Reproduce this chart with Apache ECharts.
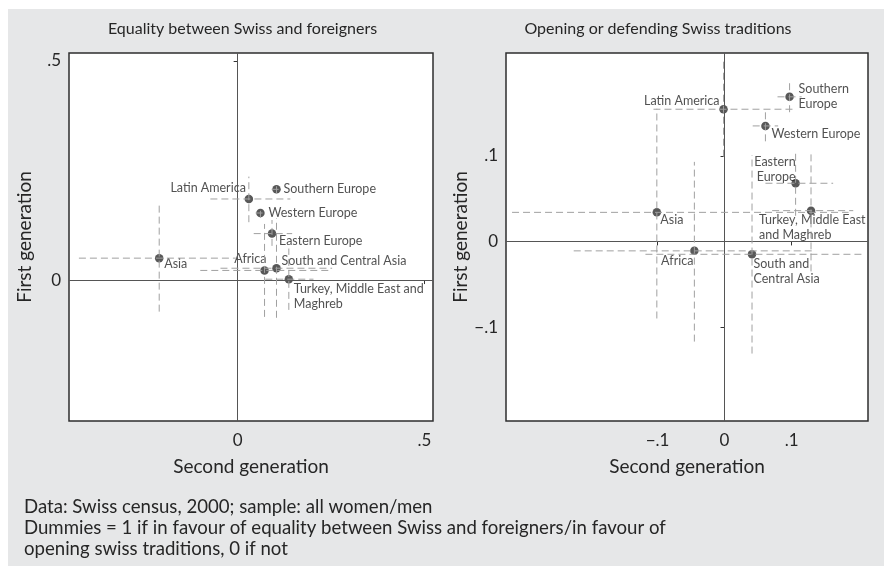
<!DOCTYPE html>
<html>
<head>
<meta charset="utf-8">
<script src="https://cdn.jsdelivr.net/npm/echarts@6/dist/echarts.min.js"></script>
<style>
  html, body { margin: 0; padding: 0; background: #fff; }
  #wrap { position: relative; width: 884px; height: 566px; overflow: hidden; }
  #panel { position: absolute; left: 8px; top: 9px; right: 0; bottom: 0; background: #e6e7e8; }
  #chart { position: absolute; left: 0; top: 0; width: 884px; height: 566px; }
</style>
</head>
<body>
<div id="wrap"><div id="panel"></div><div id="chart"></div></div>
<script>
// Region groups (same order in both panels)
const regions = ['Latin America', 'Southern Europe', 'Western Europe', 'Eastern Europe',
  'Asia', 'Africa', 'South and Central Asia', 'Turkey, Middle East and Maghreb'];

// Panel 1: equality between Swiss and foreigners
const eqSecond   = [0.030, 0.104, 0.061, 0.092, -0.210, 0.072, 0.104, 0.137];
const eqFirst    = [0.185, 0.207, 0.153, 0.106, 0.050, 0.022, 0.027, 0.002];
const eqSecondLo = [-0.073, 0.091, 0.048, 0.043, -0.425, -0.100, -0.046, 0.074];
const eqSecondHi = [0.141, 0.117, 0.074, 0.146, -0.005, 0.243, 0.253, 0.203];
const eqFirstLo  = [0.132, 0.198, 0.142, 0.078, -0.072, -0.084, -0.086, -0.068];
const eqFirstHi  = [0.236, 0.216, 0.164, 0.137, 0.171, 0.128, 0.141, 0.072];
const eqLabels = ['Latin America', 'Southern Europe', 'Western Europe', 'Eastern Europe',
  'Asia', 'Africa', 'South and Central Asia', 'Turkey, Middle East and\nMaghreb'];

// Panel 2: opening or defending Swiss traditions
const trSecond   = [-0.0015, 0.097, 0.061, 0.106, -0.101, -0.045, 0.041, 0.129];
const trFirst    = [0.1545, 0.169, 0.135, 0.068, 0.034, -0.011, -0.015, 0.036];
const trSecondLo = [-0.106, 0.079, 0.042, 0.061, -0.317, -0.225, -0.118, 0.071];
const trSecondHi = [0.104, 0.115, 0.080, 0.162, 0.185, 0.135, 0.205, 0.192];
const trFirstLo  = [0.099, 0.151, 0.117, 0.030, -0.090, -0.117, -0.131, -0.035];
const trFirstHi  = [0.210, 0.186, 0.152, 0.106, 0.155, 0.093, 0.101, 0.106];
const trLabels = ['Latin America', 'Southern\nEurope', 'Western Europe', 'Eastern\nEurope',
  'Asia', 'Africa', 'South and\nCentral Asia', 'Turkey, Middle East\nand Maghreb'];

// Axis extents and tick values
const eqXRange = [-0.4515, 0.523], eqYRange = [-0.3215, 0.518];
const trXRange = [-0.326, 0.214],  trYRange = [-0.2098, 0.2202];
const eqXTicks = [0, 0.5], eqYTicks = [0, 0.5];
const trXTicks = [-0.1, 0, 0.1], trYTicks = [-0.1, 0, 0.1];

const titles = ['Equality between Swiss and foreigners', 'Opening or defending Swiss traditions'];
const notes = [
  'Data: Swiss census, 2000; sample: all women/men',
  'Dummies = 1 if in favour of equality between Swiss and foreigners/in favour of',
  'opening swiss traditions, 0 if not'
];

// Label placement for each marker, relative to the point
const eqPlace = [
  { align: 'right', verticalAlign: 'middle', offset: [-3, -11] },
  { align: 'left',  verticalAlign: 'middle', offset: [7, 0] },
  { align: 'left',  verticalAlign: 'middle', offset: [8, 0] },
  { align: 'left',  verticalAlign: 'middle', offset: [7, 7] },
  { align: 'left',  verticalAlign: 'middle', offset: [5, 6] },
  { align: 'right', verticalAlign: 'middle', offset: [2, -11] },
  { align: 'left',  verticalAlign: 'middle', offset: [5, -7.5] },
  { align: 'left',  verticalAlign: 'top',    offset: [5, 2] }
];
const trPlace = [
  { align: 'right', verticalAlign: 'middle', offset: [-4, -8] },
  { align: 'left',  verticalAlign: 'middle', offset: [9, 0] },
  { align: 'left',  verticalAlign: 'middle', offset: [6, 8] },
  { align: 'right', verticalAlign: 'bottom', offset: [0, 1] },
  { align: 'left',  verticalAlign: 'middle', offset: [3.5, 8] },
  { align: 'right', verticalAlign: 'middle', offset: [-1, 10.5] },
  { align: 'left',  verticalAlign: 'top',    offset: [1.5, 2.5] },
  { align: 'left',  verticalAlign: 'top',    offset: [-52, 2] }
];

const FONT = 'Lato, "Open Sans", sans-serif';
const TXT = '#262626';

function fmtTick(v) {
  if (Math.abs(v) < 1e-9) return '0';
  const s = String(Math.round(Math.abs(v) * 1000) / 1000).replace(/^0/, '');
  return (v < 0 ? '\u2212' : '') + s;
}

function xAxisFor(idx, range, ticks) {
  return {
    type: 'value', gridIndex: idx, min: range[0], max: range[1],
    name: 'Second generation', nameLocation: 'middle', nameGap: 36,
    nameTextStyle: { fontSize: 19, fontFamily: FONT, color: TXT },
    axisLine: { show: false },
    axisTick: { show: true, length: 4, customValues: ticks, lineStyle: { color: '#333' } },
    axisLabel: { customValues: ticks, formatter: fmtTick, margin: 11, fontSize: 17, fontFamily: FONT, color: TXT },
    splitLine: { show: false }
  };
}
function yAxisFor(idx, range, ticks) {
  return {
    type: 'value', gridIndex: idx, min: range[0], max: range[1],
    name: 'First generation', nameLocation: 'middle', nameGap: 35,
    nameTextStyle: { fontSize: 19, fontFamily: FONT, color: TXT },
    axisLine: { show: false },
    axisTick: { show: true, length: 4, customValues: ticks, lineStyle: { color: '#333' } },
    axisLabel: { customValues: ticks, formatter: fmtTick, margin: 8, fontSize: 17, fontFamily: FONT, color: TXT },
    splitLine: { show: false }
  };
}

// Zero reference lines spanning the plot box
function zeroLines(idx) {
  return {
    type: 'scatter', xAxisIndex: idx, yAxisIndex: idx, data: [], silent: true,
    markLine: {
      silent: true, symbol: 'none', animation: false,
      label: { show: false },
      lineStyle: { color: '#555', width: 1, type: 'solid' },
      data: [{ xAxis: 0 }, { yAxis: 0 }]
    }
  };
}

// Dashed confidence bars in both directions
function ciSeries(idx, xs, ys, xlo, xhi, ylo, yhi) {
  return {
    type: 'custom', xAxisIndex: idx, yAxisIndex: idx, z: 5, silent: true,
    data: xs.map((x, i) => [x, ys[i], xlo[i], xhi[i], ylo[i], yhi[i]]),
    encode: { x: 0, y: 1 },
    renderItem(params, api) {
      const a = api.coord([api.value(2), api.value(1)]);
      const b = api.coord([api.value(3), api.value(1)]);
      const c = api.coord([api.value(0), api.value(4)]);
      const d = api.coord([api.value(0), api.value(5)]);
      const style = { stroke: '#a0a0a0', lineWidth: 1, lineDash: [7, 4], fill: null };
      return {
        type: 'group',
        children: [
          { type: 'line', shape: { x1: a[0], y1: a[1], x2: b[0], y2: b[1] }, style },
          { type: 'line', shape: { x1: c[0], y1: c[1], x2: d[0], y2: d[1] }, style }
        ]
      };
    }
  };
}

function pointSeries(idx, xs, ys, labels, place) {
  return {
    type: 'scatter', xAxisIndex: idx, yAxisIndex: idx, z: 3, silent: true,
    symbol: 'circle', symbolSize: 8.5,
    itemStyle: { color: '#2e2e2e' },
    label: {
      show: true, position: 'inside', color: TXT, fontSize: 12.5, fontFamily: FONT, lineHeight: 15
    },
    data: xs.map((x, i) => ({
      name: regions[i],
      value: [x, ys[i]],
      label: Object.assign({ formatter: labels[i] }, place[i])
    }))
  };
}

const graphics = [
  { type: 'text', x: 242.5, y: 29, style: { text: titles[0], font: '16px ' + FONT, fill: TXT, align: 'center', verticalAlign: 'middle' } },
  { type: 'text', x: 658, y: 29, style: { text: titles[1], font: '16px ' + FONT, fill: TXT, align: 'center', verticalAlign: 'middle' } }
];
notes.forEach((t, i) => {
  graphics.push({ type: 'text', x: 24, y: 507 + i * 21, style: { text: t, font: '18.6px ' + FONT, fill: TXT, align: 'left', verticalAlign: 'middle' } });
});

const chart = echarts.init(document.getElementById('chart'), null, { renderer: 'canvas' });
chart.setOption({
  animation: false,
  backgroundColor: 'transparent',
  grid: [
    { left: 69, top: 53, width: 364, height: 368, show: true, backgroundColor: '#fff', borderColor: '#2e2e2e', borderWidth: 1.5 },
    { left: 506, top: 53, width: 362, height: 368, show: true, backgroundColor: '#fff', borderColor: '#2e2e2e', borderWidth: 1.5 }
  ],
  xAxis: [xAxisFor(0, eqXRange, eqXTicks), xAxisFor(1, trXRange, trXTicks)],
  yAxis: [yAxisFor(0, eqYRange, eqYTicks), yAxisFor(1, trYRange, trYTicks)],
  graphic: graphics,
  series: [
    zeroLines(0), zeroLines(1),
    pointSeries(0, eqSecond, eqFirst, eqLabels, eqPlace),
    pointSeries(1, trSecond, trFirst, trLabels, trPlace),
    ciSeries(0, eqSecond, eqFirst, eqSecondLo, eqSecondHi, eqFirstLo, eqFirstHi),
    ciSeries(1, trSecond, trFirst, trSecondLo, trSecondHi, trFirstLo, trFirstHi)
  ]
});
</script>
</body>
</html>
